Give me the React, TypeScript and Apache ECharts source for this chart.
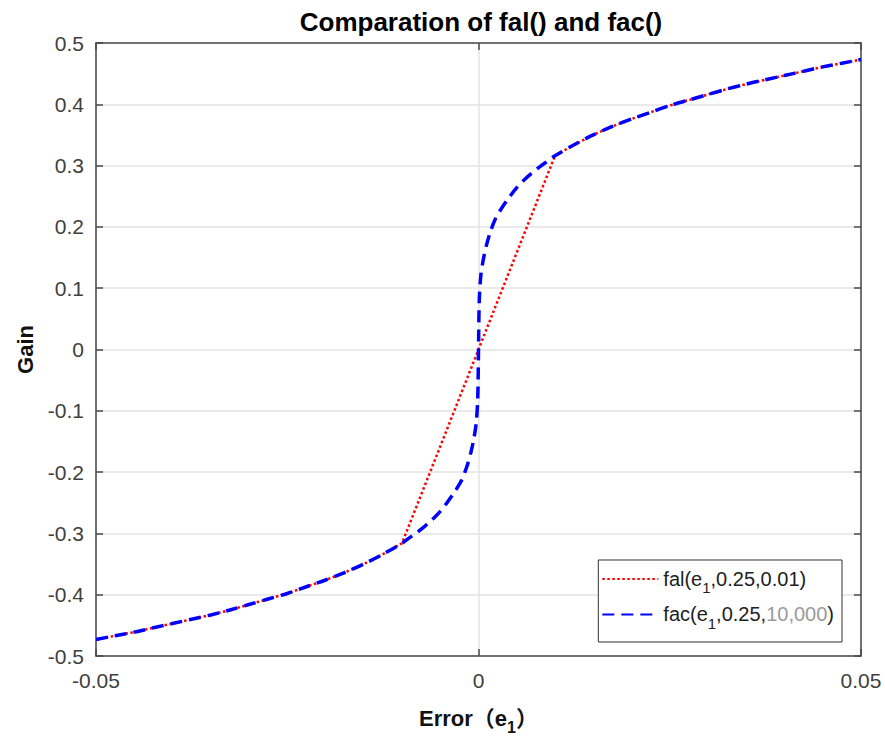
import React, { useEffect, useRef } from "react";
import * as echarts from "echarts";

// Error values (e1) and gains
const errOuterNeg = [-0.05, -0.0475, -0.045, -0.0425, -0.04, -0.0375, -0.035, -0.0325, -0.03, -0.0275, -0.025, -0.0225, -0.02, -0.0175, -0.015, -0.0125, -0.01];
const gainOuterNeg = [-0.473, -0.467, -0.461, -0.454, -0.447, -0.44, -0.433, -0.425, -0.416, -0.407, -0.398, -0.387, -0.376, -0.364, -0.35, -0.334, -0.316];
const errOuterPos = [0.01, 0.0125, 0.015, 0.0175, 0.02, 0.0225, 0.025, 0.0275, 0.03, 0.0325, 0.035, 0.0375, 0.04, 0.0425, 0.045, 0.0475, 0.05];
const gainOuterPos = [0.316, 0.334, 0.35, 0.364, 0.376, 0.387, 0.398, 0.407, 0.416, 0.425, 0.433, 0.44, 0.447, 0.454, 0.461, 0.467, 0.473];

// fal: linear segment through the origin between the outer branches
const falInnerErr = [0];
const falInnerGain = [0];

// fac: steep smooth transition near zero
const facInnerErrNeg = [-0.009, -0.008, -0.007, -0.006, -0.005, -0.004, -0.003, -0.0022, -0.0015, -0.001, -0.0006, -0.0003, -0.0001];
const facInnerGainNeg = [-0.307, -0.298, -0.288, -0.277, -0.264, -0.248, -0.23, -0.213, -0.19, -0.168, -0.145, -0.12, -0.08];
const facInnerErrPos = [0, 0.0001, 0.0003, 0.0006, 0.001, 0.0015, 0.0022, 0.003, 0.004, 0.005, 0.006, 0.007, 0.008, 0.009];
const facInnerGainPos = [0, 0.08, 0.12, 0.145, 0.168, 0.19, 0.213, 0.23, 0.248, 0.264, 0.277, 0.288, 0.298, 0.307];

const xTicks = { min: -0.05, max: 0.05, interval: 0.05 };
const yTicks = { min: -0.5, max: 0.5, interval: 0.1 };

const FONT = '"Liberation Sans", Arial, "Noto Sans CJK SC", sans-serif';

function zip(xs: number[], ys: number[]) {
  return xs.map((x, i) => [x, ys[i]]);
}

export default function App() {
  const ref = useRef<HTMLDivElement>(null);
  useEffect(() => {
    if (!ref.current) return;
    document.body.style.margin = "0";
    const chart = echarts.init(ref.current, null, { renderer: "svg" });
    const falData = [
      ...zip(errOuterNeg, gainOuterNeg),
      ...zip(falInnerErr, falInnerGain),
      ...zip(errOuterPos, gainOuterPos),
    ];
    const facData = [
      ...zip(errOuterNeg, gainOuterNeg),
      ...zip(facInnerErrNeg, facInnerGainNeg),
      ...zip(facInnerErrPos, facInnerGainPos),
      ...zip(errOuterPos, gainOuterPos),
    ];
    const axisColor = "#4a4a4a";
    const labelStyle = { color: "#404040", fontSize: 21, fontFamily: FONT };
    chart.setOption({
      animation: false,
      backgroundColor: "#fff",
      title: {
        text: "Comparation of fal() and fac()",
        left: 476,
        top: 4,
        textAlign: "center",
        textStyle: { fontSize: 26, fontWeight: "bold", color: "#000", fontFamily: FONT },
      },
      grid: { left: 96, right: 24, top: 43, bottom: 80, containLabel: false },
      legend: {
        orient: "vertical",
        right: 43,
        bottom: 98,
        backgroundColor: "#fff",
        borderColor: "#333",
        borderWidth: 1,
        padding: [9, 8, 11, 3],
        itemGap: 9,
        itemWidth: 56,
        itemHeight: 14,
        itemStyle: { opacity: 0 },
        data: ["fal", "fac"],
        formatter: (name: string) =>
          name === "fal"
            ? "{t|fal(e}{s|1}{t|,0.25,0.01)}"
            : "{t|fac(e}{s|1}{t|,0.25,}{g|10,000}{t|)}",
        textStyle: {
          fontFamily: FONT,
          fontSize: 20,
          color: "#222",
          rich: {
            t: { fontSize: 20, color: "#222", fontFamily: FONT },
            g: { fontSize: 20, color: "#9a9a9a", fontFamily: FONT },
            s: { fontSize: 15, color: "#222", fontFamily: FONT, padding: [18, 0, 0, 0] },
          },
        },
      },
      xAxis: [
        {
          type: "value",
          ...xTicks,
          position: "bottom",
          name: "{t|Error（e}{s|1}{t|）}",
          nameLocation: "middle",
          nameGap: 45,
          nameTextStyle: {
            rich: {
              t: { fontSize: 22, fontWeight: "bold", color: "#111", fontFamily: FONT },
              s: { fontSize: 16, fontWeight: "bold", color: "#111", fontFamily: FONT, padding: [18, 0, 0, 0] },
            },
          },
          axisLine: { show: true, onZero: false, lineStyle: { color: axisColor, width: 1.5 } },
          axisTick: { show: true, inside: true, length: 7, lineStyle: { color: axisColor, width: 1.5 } },
          axisLabel: { ...labelStyle, margin: 14, formatter: (v: number) => (Math.abs(v) < 1e-9 ? "0" : String(Math.round(v * 100) / 100)) },
          splitLine: { show: true, lineStyle: { color: "#e3e3e3", width: 1.5 } },
        },
        {
          type: "value",
          ...xTicks,
          position: "top",
          axisLine: { show: true, onZero: false, lineStyle: { color: axisColor, width: 1.5 } },
          axisTick: { show: true, inside: true, length: 7, lineStyle: { color: axisColor, width: 1.5 } },
          axisLabel: { show: false },
          splitLine: { show: false },
        },
      ],
      yAxis: [
        {
          type: "value",
          ...yTicks,
          position: "left",
          name: "Gain",
          nameLocation: "middle",
          nameGap: 58,
          nameRotate: 90,
          nameTextStyle: { fontSize: 22, fontWeight: "bold", color: "#111", fontFamily: FONT },
          axisLine: { show: true, onZero: false, lineStyle: { color: axisColor, width: 1.5 } },
          axisTick: { show: true, inside: true, length: 7, lineStyle: { color: axisColor, width: 1.5 } },
          axisLabel: {
            ...labelStyle,
            margin: 12,
            formatter: (v: number) => (Math.abs(v) < 1e-9 ? "0" : String(Math.round(v * 10) / 10)),
          },
          splitLine: { show: true, lineStyle: { color: "#e3e3e3", width: 1.5 } },
        },
        {
          type: "value",
          ...yTicks,
          position: "right",
          axisLine: { show: true, onZero: false, lineStyle: { color: axisColor, width: 1.5 } },
          axisTick: { show: true, inside: true, length: 7, lineStyle: { color: axisColor, width: 1.5 } },
          axisLabel: { show: false },
          splitLine: { show: false },
        },
      ],
      series: [
        {
          name: "fal",
          type: "line",
          data: falData,
          symbol: "none",
          z: 2,
          lineStyle: { color: "#ff0000", width: 2.5, type: [2.5, 2.5] },
          itemStyle: { color: "#ff0000" },
        },
        {
          name: "fac",
          type: "line",
          data: facData,
          symbol: "none",
          smooth: 0.3,
          z: 3,
          lineStyle: { color: "#0000ff", width: 3.5, type: [12, 7] },
          itemStyle: { color: "#0000ff" },
        },
      ],
    });
    return () => chart.dispose();
  }, []);
  return <div ref={ref} style={{ width: 885, height: 740 }} />;
}
